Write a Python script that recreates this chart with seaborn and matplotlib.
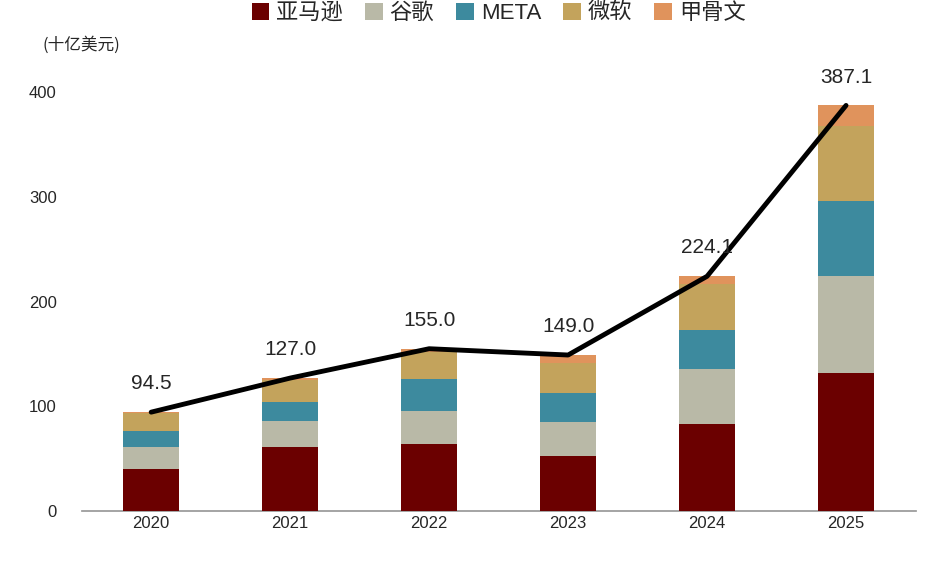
import numpy as np
import pandas as pd
import matplotlib
matplotlib.use("Agg")
import matplotlib.pyplot as plt
import seaborn as sns

years = ["2020", "2021", "2022", "2023", "2024", "2025"]
companies = ["亚马逊", "谷歌", "META", "微软", "甲骨文"]
amazon = [40, 61, 64, 53, 83, 132]
google = [21.5, 25, 32, 32, 52.5, 92]
meta = [15, 18, 30, 28, 37, 72]
msft = [17.5, 21, 26, 28, 44.5, 71]
oracle = [0.5, 2, 3, 8, 7, 20.1]
totals = [94.5, 127.0, 155.0, 149.0, 224.1, 387.1]
colors = ["#6B0000", "#B9B9A7", "#3D8A9E", "#C3A35C", "#E0935C"]

sns.set_theme(style="white")
plt.rcParams['font.family'] = ['Liberation Sans', 'Noto Sans CJK SC', 'DejaVu Sans']

df = pd.DataFrame({"year": years, "亚马逊": amazon, "谷歌": google,
                   "META": meta, "微软": msft, "甲骨文": oracle})

fig, ax = plt.subplots(figsize=(9.39, 5.63), dpi=100)
bottom = np.zeros(len(years))
for name, c in zip(companies, colors):
    sns.barplot(x=df["year"], y=df[name] + bottom, color=c, ax=ax, width=0.4,
                saturation=1, zorder=2, label=name)
    bottom += df[name].values
for p in ax.patches:
    p.set_linewidth(0)
patches = list(ax.patches)
n = len(years)
for k in range(len(companies)):
    for p in patches[k * n:(k + 1) * n]:
        p.set_zorder(10 - k)

x = np.arange(len(years))
ax.plot(x, totals, color="black", lw=3.5, zorder=20)
for xi, t in zip(x, totals):
    ax.text(xi, t + 18, f"{t:.1f}", ha="center", va="bottom", fontsize=15, zorder=21)

ax.set_ylim(0, 420)
ax.set_yticks([0, 100, 200, 300, 400])
ax.set_xlim(-0.5, 5.5)
ax.set_xlabel("")
ax.set_ylabel("")
for s in ["left", "right", "top"]:
    ax.spines[s].set_visible(False)
ax.spines["bottom"].set_color("#999999")
ax.tick_params(axis="both", labelsize=12, length=0)
ax.tick_params(axis="y", pad=18)
fig.text(0.045, 0.905, "(十亿美元)", fontsize=12, ha="left", va="bottom",
         family=['Noto Sans CJK SC', 'DejaVu Sans'])

handles, labels = ax.get_legend_handles_labels()
ax.legend(handles[:5], labels[:5], loc="upper center", bbox_to_anchor=(0.5, 1.2),
          ncol=5, frameon=False, fontsize=16, handlelength=0.8, handleheight=0.8,
          columnspacing=1.0, handletextpad=0.3,
          prop={'family': ['Liberation Sans', 'Noto Sans CJK SC'], 'size': 16})

plt.subplots_adjust(left=0.087, right=0.975, top=0.874, bottom=0.092)
plt.savefig("out.png", dpi=100)
